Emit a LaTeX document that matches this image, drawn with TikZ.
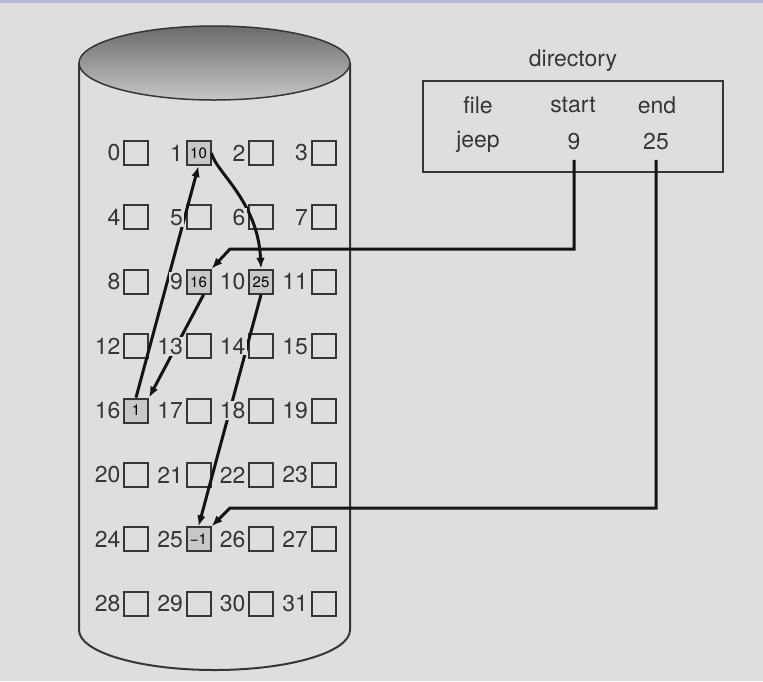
\documentclass[tikz,border=0pt]{standalone}
\usepackage{fontspec}
\setmainfont{TeX Gyre Heros}
\usetikzlibrary{arrows.meta}
\definecolor{paper}{HTML}{DEDEDC}
\definecolor{edge}{HTML}{B6B6DA}
\definecolor{used}{HTML}{C8C8C8}
\definecolor{ink}{HTML}{363636}

\begin{document}
\begin{tikzpicture}[
  x=1pt, y=-1pt,
  blk/.style={rectangle, draw=ink, line width=2pt, minimum size=24pt,
              inner sep=0pt, font=\fontsize{15}{15}\selectfont},
  usedblk/.style={blk, fill=used},
  num/.style={anchor=east, fill=paper, inner sep=1pt, outer sep=1.5pt,
              text=ink, font=\fontsize{23}{23}\selectfont},
  dirtext/.style={text=ink, font=\fontsize{23}{23}\selectfont},
  link/.style={-{Latex[length=11pt,width=8.5pt]}, line width=3pt, black!92}
]
% page
\fill[paper] (0,0) rectangle (763,681);
\fill[edge] (0,0) rectangle (763,3);
\useasboundingbox (0,0) rectangle (763,681);

% disk
\draw[ink, line width=2pt] (79,63) -- (79,630)
  arc[start angle=180, end angle=360, x radius=135.5pt, y radius=40pt]
  -- (350,63);
\shade[top color=black!58, bottom color=black!22, draw=ink, line width=1.5pt]
  (214.5,63) ellipse [x radius=135.5pt, y radius=37pt];

% blocks
\foreach \n in {0,...,31}
  \coordinate (p\n) at ({136+62.5*mod(\n,4)}, {153+64.4*div(\n,4)});
\foreach \n in {0,2,3,4,5,6,7,8,11,12,13,14,15,17,18,19,20,21,22,23,24,26,27,28,29,30,31}
  \node[blk] (b\n) at (p\n) {};
\foreach \n/\ptr in {1/10, 9/16, 10/25, 16/1, 25/−1}
  \node[usedblk] (b\n) at (p\n) {\ptr};

% chain of jeep
\draw[link] ([xshift=5pt]b9.south) -- (b16.north east);
\draw[link] (b16.north) -- (b1.south);
\draw[link] (b1.east) .. controls +(4pt,-19pt) and +(-3pt,68pt) .. (b10.north);
\draw[link] (b10.south) -- (b25.north);

% directory
\node[dirtext] (dirname) at (573,61) {directory};
\node[draw=ink, line width=1.5pt, minimum width=300pt, minimum height=91pt] (dir) at (573,126.5) {};
\node[dirtext] (hfile)  at (478,105) {file};
\node[dirtext] (hstart) at (573,105) {start};
\node[dirtext] (hend)   at (657,105) {end};
\node[dirtext] (vfile)  at (478,142) {jeep};
\node[dirtext] (vstart) at (574,142) {9};
\node[dirtext] (vend)   at (656,142) {25};

\coordinate (sturn) at (230,249);
\coordinate (eturn) at (230,508);
\draw[link] ([yshift=-6pt]vstart.south) |- (sturn) -- (b9.north east);
\draw[link] ([yshift=-6pt]vend.south) |- (eturn) -- (b25.north east);

% block numbers
\foreach \n in {0,...,31}
  \node[num] (l\n) at (b\n.west) {\n};
\end{tikzpicture}
\end{document}
